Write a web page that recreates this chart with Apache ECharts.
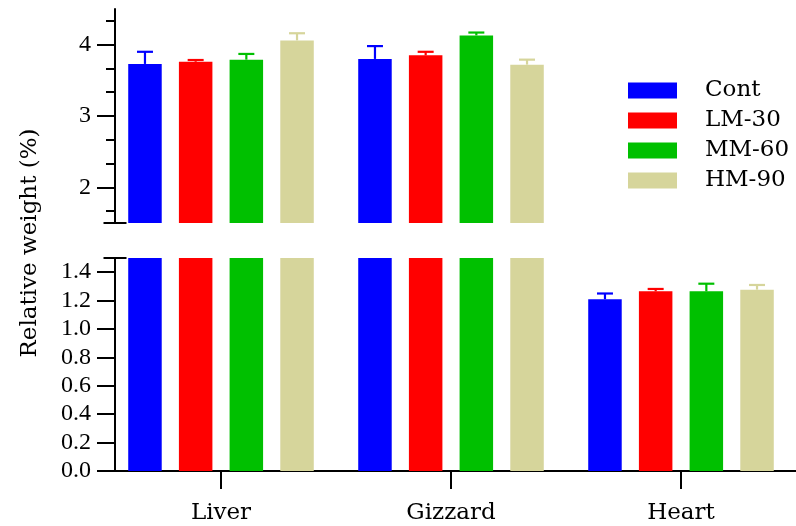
<!DOCTYPE html>
<html>
<head>
<meta charset="utf-8">
<script src="https://cdn.jsdelivr.net/npm/echarts@6/dist/echarts.min.js"></script>
<style>
html,body{margin:0;padding:0;background:#fff;}
#chart{width:796px;height:526px;}
</style>
</head>
<body>
<div id="chart"></div>
<script>
// ---------- data ----------
var categories = ['Liver', 'Gizzard', 'Heart'];
var seriesNames = ['Cont', 'LM-30', 'MM-60', 'HM-90'];
var contValues = [3.73, 3.80, 1.21];
var contErrors = [0.17, 0.18, 0.04];
var lm30Values = [3.76, 3.85, 1.265];
var lm30Errors = [0.025, 0.05, 0.017];
var mm60Values = [3.79, 4.13, 1.265];
var mm60Errors = [0.08, 0.04, 0.054];
var hm90Values = [4.06, 3.72, 1.277];
var hm90Errors = [0.10, 0.07, 0.033];

var topRange = [1.5, 4.5];
var bottomRange = [0, 1.5];
var topMajorTicks = [2, 3, 4];
var topMinorTicks = [5/3, 7/3, 8/3, 10/3, 11/3, 13/3];
var bottomTicks = [0, 0.2, 0.4, 0.6, 0.8, 1.0, 1.2, 1.4];
var breakValue = [1.5];

// ---------- styling ----------
var colors = ['#0000ff', '#ff0000', '#00c000', '#d6d59b'];
var NUM_FONT = 'Liberation Serif';
var WORD_FONT = 'DejaVu Serif';
var BAR_W = 33.5;
var BAR_GAP = 0.513;
var PITCH = BAR_W * (1 + BAR_GAP);

var allValues = [contValues, lm30Values, mm60Values, hm90Values];
var allErrors = [contErrors, lm30Errors, mm60Errors, hm90Errors];

var errData = [];
for (var s = 0; s < 4; s++) {
  for (var c = 0; c < categories.length; c++) {
    errData.push([c, s, allValues[s][c], allErrors[s][c]]);
  }
}

function renderErr(params, api) {
  var c = api.value(0), s = api.value(1), m = api.value(2), e = api.value(3);
  var base = api.coord([c, m]);
  var top = api.coord([c, m + e]);
  var cs = params.coordSys;
  if (base[1] > cs.y + cs.height + 0.5 || top[1] < cs.y - 0.5) return null;
  var x = base[0] + (s - 1.5) * PITCH;
  var col = colors[s];
  var y0 = Math.min(base[1], cs.y + cs.height);
  return {
    type: 'group',
    children: [
      {type: 'line', shape: {x1: x, y1: y0, x2: x, y2: top[1]}, style: {stroke: col, lineWidth: 2.2}},
      {type: 'line', shape: {x1: x - 8, y1: top[1], x2: x + 8, y2: top[1]}, style: {stroke: col, lineWidth: 2.2}}
    ]
  };
}

var blackLine = {color: '#000', width: 2};

function breakAxis(gridIndex, range, inside, len) {
  return {
    type: 'value', gridIndex: gridIndex, position: 'left', min: range[0], max: range[1], offset: -9,
    axisLine: {show: false}, splitLine: {show: false}, axisLabel: {show: false},
    axisTick: {show: true, inside: inside, length: len, customValues: breakValue, lineStyle: blackLine}
  };
}

var series = [];
for (var i = 0; i < 4; i++) {
  series.push({
    name: seriesNames[i], type: 'bar', xAxisIndex: 0, yAxisIndex: 0,
    data: allValues[i], barWidth: BAR_W, barGap: (BAR_GAP * 100) + '%',
    itemStyle: {color: colors[i]}, clip: true, silent: true
  });
}
for (var j = 0; j < 4; j++) {
  series.push({
    name: seriesNames[j], type: 'bar', xAxisIndex: 1, yAxisIndex: 4,
    data: allValues[j], barWidth: BAR_W, barGap: (BAR_GAP * 100) + '%',
    itemStyle: {color: colors[j]}, clip: true, silent: true
  });
}
series.push({type: 'custom', xAxisIndex: 0, yAxisIndex: 0, data: errData, renderItem: renderErr, z: 5, silent: true});
series.push({type: 'custom', xAxisIndex: 1, yAxisIndex: 4, data: errData, renderItem: renderErr, z: 5, silent: true});

var chart = echarts.init(document.getElementById('chart'), null, {renderer: 'canvas'});
chart.setOption({
  animation: false,
  backgroundColor: '#fff',
  grid: [
    {left: 106, width: 709, top: 9, height: 214},
    {left: 106, width: 709, top: 258, height: 213}
  ],
  legend: {
    data: seriesNames, orient: 'vertical', left: 623, top: 73.5,
    icon: 'rect', itemWidth: 49, itemHeight: 16, itemGap: 6,
    textStyle: {fontFamily: WORD_FONT, fontSize: 23, lineHeight: 24, color: '#000', padding: [0, 0, 0, 23]},
    selectedMode: false
  },
  xAxis: [
    {type: 'category', gridIndex: 0, data: categories, show: false},
    {type: 'category', gridIndex: 1, data: categories,
     axisLine: {show: true, lineStyle: blackLine},
     axisTick: {show: true, alignWithLabel: true, length: 18, lineStyle: blackLine},
     axisLabel: {fontFamily: WORD_FONT, fontSize: 23, color: '#000', margin: 31}}
  ],
  yAxis: [
    {type: 'value', gridIndex: 0, position: 'left', min: topRange[0], max: topRange[1], offset: -9,
     axisLine: {show: true, lineStyle: blackLine}, splitLine: {show: false},
     axisTick: {show: true, length: 18, customValues: topMajorTicks, lineStyle: blackLine},
     axisLabel: {customValues: topMajorTicks, fontFamily: NUM_FONT, fontSize: 24, color: '#000', margin: 24}},
    {type: 'value', gridIndex: 0, position: 'left', min: topRange[0], max: topRange[1], offset: -9,
     axisLine: {show: false}, splitLine: {show: false}, axisLabel: {show: false},
     axisTick: {show: true, length: 9, customValues: topMinorTicks, lineStyle: blackLine}},
    breakAxis(0, topRange, true, 11.5),
    breakAxis(0, topRange, false, 11.5),
    {type: 'value', gridIndex: 1, position: 'left', min: bottomRange[0], max: bottomRange[1], offset: -9,
     axisLine: {show: true, lineStyle: blackLine}, splitLine: {show: false},
     axisTick: {show: true, length: 18, customValues: bottomTicks, lineStyle: blackLine},
     axisLabel: {customValues: bottomTicks, fontFamily: NUM_FONT, fontSize: 24, color: '#000', margin: 24,
                 formatter: function (v) { return v.toFixed(1); }}},
    breakAxis(1, bottomRange, true, 11.5),
    breakAxis(1, bottomRange, false, 11.5)
  ],
  graphic: [{
    type: 'text', x: 30, y: 243, rotation: Math.PI / 2,
    style: {text: 'Relative weight (%)', fontFamily: WORD_FONT, fontSize: 23, fill: '#000',
            align: 'center', verticalAlign: 'middle'}
  }],
  series: series
});
</script>
</body>
</html>
